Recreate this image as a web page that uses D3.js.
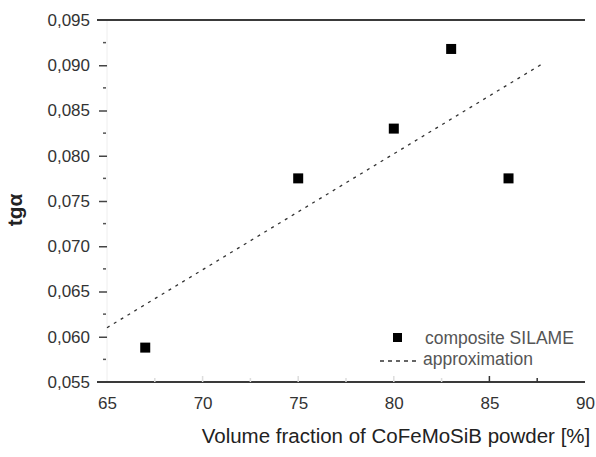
<!DOCTYPE html>
<html>
<head>
<meta charset="utf-8">
<script src="https://cdn.jsdelivr.net/npm/d3@7"></script>
<style>
  body { margin: 0; background: #fff; }
  svg { font-family: "Liberation Sans", Arial, sans-serif; }
</style>
</head>
<body>
<div id="chart"></div>
<script>
// datos
const fraccion = [67, 75, 80, 83, 86];
const tgAlpha = [0.0588, 0.0775, 0.0830, 0.0918, 0.0775];
const ajusteX = [65, 87.8];
const ajusteY = [0.0610, 0.0902];
const ticksX = [65, 70, 75, 80, 85, 90];
const ticksY = [0.055, 0.060, 0.065, 0.070, 0.075, 0.080, 0.085, 0.090, 0.095];

const WIDTH = 596;
const HEIGHT = 457;
const MARGIN = { top: 20, bottom: 75, left: 107, right: 11 };

const svg = d3.select("#chart")
    .append("svg")
    .attr("width", WIDTH)
    .attr("height", HEIGHT);

const x = d3.scaleLinear().domain([65, 90]).range([MARGIN.left, WIDTH - MARGIN.right]);
const y = d3.scaleLinear().domain([0.055, 0.095]).range([HEIGHT - MARGIN.bottom, MARGIN.top]);

const coma = d => d3.format(".3f")(d).replace(".", ",");

// eje izquierdo (casi invisible en el original)
svg.append("line")
    .attr("x1", x(65)).attr("x2", x(65))
    .attr("y1", y(0.095)).attr("y2", y(0.055))
    .attr("stroke", "#eee");

const ejeY = svg.append("g")
    .attr("transform", `translate(${x(65)},0)`)
    .call(d3.axisLeft(y).tickValues(ticksY).tickFormat(coma).tickSize(8).tickPadding(9));
ejeY.select(".domain").remove();
ejeY.selectAll("line").attr("stroke", "#444").attr("stroke-width", 1.5)
    .filter(d => d === 0.095 || d === 0.055).remove();
ejeY.selectAll("text").attr("font-size", 17).attr("fill", "#333")
    .attr("font-family", "Liberation Sans, Arial, sans-serif");

// ticks menores en Y
svg.selectAll(".menorY")
    .data(d3.range(0.0575, 0.095, 0.005))
    .join("line")
    .attr("class", "menorY")
    .attr("x1", x(65) - 4).attr("x2", x(65) - 1)
    .attr("y1", d => y(d)).attr("y2", d => y(d))
    .attr("stroke", "#555").attr("stroke-width", 1.5);

// lineas superior e inferior
[0.095, 0.055].forEach(v => {
    svg.append("line")
        .attr("x1", x(65) - 10).attr("x2", x(90))
        .attr("y1", y(v)).attr("y2", y(v))
        .attr("stroke", "#3a3a3a").attr("stroke-width", 2.2);
});

const ejeX = svg.append("g")
    .attr("transform", `translate(0,${y(0.055)})`)
    .call(d3.axisBottom(x).tickValues(ticksX).tickSize(0).tickPadding(15));
ejeX.select(".domain").remove();
ejeX.selectAll("text").attr("font-size", 17).attr("fill", "#333")
    .attr("font-family", "Liberation Sans, Arial, sans-serif");

// ticks en X (hacia adentro, tenues excepto los de la derecha)
svg.selectAll(".tickX")
    .data([67.5, 70, 72.5, 75, 77.5, 80, 82.5, 85, 87.5])
    .join("line")
    .attr("class", "tickX")
    .attr("x1", d => x(d)).attr("x2", d => x(d))
    .attr("y1", y(0.055)).attr("y2", d => y(0.055) - (d % 5 === 0 ? 6 : 4))
    .attr("stroke", d => d >= 85 ? "#333" : "#ddd")
    .attr("stroke-width", 1.5);

// recta de aproximacion
svg.append("line")
    .attr("x1", x(ajusteX[0])).attr("y1", y(ajusteY[0]))
    .attr("x2", x(ajusteX[1])).attr("y2", y(ajusteY[1]))
    .attr("stroke", "#333")
    .attr("stroke-width", 1.3)
    .attr("stroke-dasharray", "3,5");

// puntos medidos
const lado = 10;
svg.selectAll(".punto")
    .data(fraccion.map((d, i) => [d, tgAlpha[i]]))
    .join("rect")
    .attr("class", "punto")
    .attr("x", d => x(d[0]) - lado / 2)
    .attr("y", d => y(d[1]) - lado / 2)
    .attr("width", lado)
    .attr("height", lado)
    .attr("fill", "#000");

// leyenda
const leyenda = svg.append("g");
leyenda.append("rect")
    .attr("x", 393).attr("y", 333).attr("width", 9).attr("height", 9).attr("fill", "#000");
leyenda.append("text")
    .attr("x", 425).attr("y", 344)
    .attr("font-size", 17.5).attr("fill", "#555")
    .text("composite SILAME");
leyenda.append("line")
    .attr("x1", 380).attr("x2", 420).attr("y1", 361).attr("y2", 361)
    .attr("stroke", "#333").attr("stroke-width", 1.3).attr("stroke-dasharray", "4,4");
leyenda.append("text")
    .attr("x", 423).attr("y", 365)
    .attr("font-size", 17.5).attr("fill", "#555")
    .text("approximation");

// titulos de ejes
svg.append("text")
    .attr("x", 396)
    .attr("y", 443)
    .attr("text-anchor", "middle")
    .attr("font-size", 20.5)
    .attr("fill", "#222")
    .text("Volume fraction of CoFeMoSiB powder [%]");

svg.append("text")
    .attr("transform", "translate(22,210) rotate(-90)")
    .attr("text-anchor", "middle")
    .attr("font-size", 21)
    .attr("font-weight", "bold")
    .attr("fill", "#222")
    .text("tgα");
</script>
</body>
</html>
